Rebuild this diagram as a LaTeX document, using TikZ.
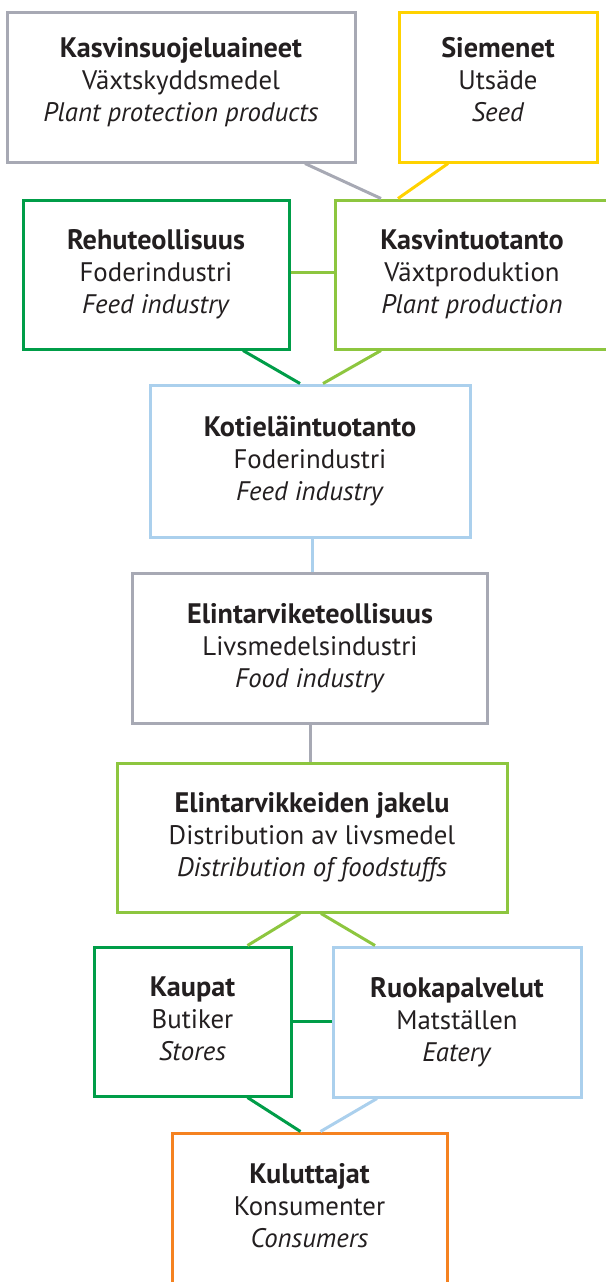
\documentclass[tikz,border=0pt]{standalone}
\usepackage{fontspec}
\setmainfont{PT Sans}
\usetikzlibrary{positioning}

\definecolor{harmaa}{RGB}{167,169,180}
\definecolor{keltainen}{RGB}{255,210,0}
\definecolor{tummavihrea}{RGB}{0,157,72}
\definecolor{vaaleavihrea}{RGB}{141,198,63}
\definecolor{vaaleansininen}{RGB}{171,208,237}
\definecolor{oranssi}{RGB}{245,130,32}
\definecolor{teksti}{RGB}{35,31,32}

\newcommand{\otsikko}[1]{{\fontsize{14.1}{16}\selectfont\bfseries #1}}

\tikzset{
  laatikko/.style={draw, line width=1.5pt, fill=white, align=center, inner sep=0pt,
    text=teksti, text depth=3pt, font=\fontsize{13.4}{16}\selectfont},
  ylarivi/.style={text depth=8pt},
  yhteys/.style={line width=1.5pt}
}

\begin{document}
\begin{tikzpicture}[x=0.5pt, y=-0.5pt]

\clip (0,0) rectangle (606,1282);
\useasboundingbox (0,0) rectangle (606,1282);

% boxes
\node[laatikko, ylarivi, draw=harmaa, minimum width=174pt, minimum height=75pt] (suoja) at (181,87)
  {\otsikko{Kasvinsuojeluaineet}\\Växtskyddsmedel\\\textit{Plant protection products}};
\node[laatikko, ylarivi, draw=keltainen, minimum width=99pt, minimum height=75pt] (siemen) at (498,87)
  {\otsikko{Siemenet}\\Utsäde\\\textit{Seed}};
\node[laatikko, draw=tummavihrea, minimum width=133pt, minimum height=74.5pt] (rehu) at (156,274.5)
  {\otsikko{Rehuteollisuus}\\Foderindustri\\\textit{Feed industry}};
\node[laatikko, draw=vaaleavihrea, minimum width=137pt, minimum height=74.5pt] (kasvi) at (472,274.5)
  {\otsikko{Kasvintuotanto}\\Växtproduktion\\\textit{Plant production}};
\node[laatikko, draw=vaaleansininen, minimum width=160pt, minimum height=76pt] (kotiel) at (310,461)
  {\otsikko{Kotieläintuotanto}\\Foderindustri\\\textit{Feed industry}};
\node[laatikko, draw=harmaa, minimum width=177.5pt, minimum height=75pt] (teoll) at (310,648)
  {\otsikko{Elintarviketeollisuus}\\Livsmedelsindustri\\\textit{Food industry}};
\node[laatikko, draw=vaaleavihrea, minimum width=195pt, minimum height=74.5pt] (jakelu) at (312,837.5)
  {\otsikko{Elintarvikkeiden jakelu}\\Distribution av livsmedel\\\textit{Distribution of foodstuffs}};
\node[laatikko, draw=tummavihrea, minimum width=98.5pt, minimum height=74.5pt] (kaupat) at (192.5,1021.5)
  {\otsikko{Kaupat}\\Butiker\\\textit{Stores}};
\node[laatikko, draw=vaaleansininen, minimum width=124pt, minimum height=75pt] (ruoka) at (457,1022)
  {\otsikko{Ruokapalvelut}\\Matställen\\\textit{Eatery}};
\node[laatikko, draw=oranssi, minimum width=137.5pt, minimum height=75pt] (kulutt) at (309.5,1208)
  {\otsikko{Kuluttajat}\\Konsumenter\\\textit{Consumers}};

% connectors
\draw[yhteys, harmaa] ([xshift=62pt]suoja.south) -- ([xshift=-45.5pt]kasvi.north);
\draw[yhteys, keltainen] ([xshift=-25pt]siemen.south) -- ([xshift=-37pt]kasvi.north);
\draw[yhteys, vaaleavihrea] (rehu.east |- 0,272) -- (kasvi.west |- 0,272);
\draw[yhteys, tummavihrea] ([xshift=43.5pt]rehu.south) -- ([xshift=-5pt]kotiel.north);
\draw[yhteys, vaaleavihrea] ([xshift=-45.5pt]kasvi.south) -- ([xshift=6.5pt]kotiel.north);
\draw[yhteys, vaaleansininen] ([xshift=1pt]kotiel.south) -- ([xshift=1pt]teoll.north);
\draw[yhteys, harmaa] (teoll.south) -- (teoll.south |- jakelu.north);
\draw[yhteys, vaaleavihrea] ([xshift=-6pt]jakelu.south) -- ([xshift=27.5pt]kaupat.north);
\draw[yhteys, vaaleavihrea] ([xshift=4.5pt]jakelu.south) -- ([xshift=-41pt]ruoka.north);
\draw[yhteys, tummavihrea] (kaupat.east) -- (kaupat.east -| ruoka.west);
\draw[yhteys, tummavihrea] ([xshift=27.5pt]kaupat.south) -- ([xshift=-4.5pt]kulutt.north);
\draw[yhteys, vaaleansininen] ([xshift=-40pt]ruoka.south) -- ([xshift=5.5pt]kulutt.north);

\end{tikzpicture}
\end{document}
